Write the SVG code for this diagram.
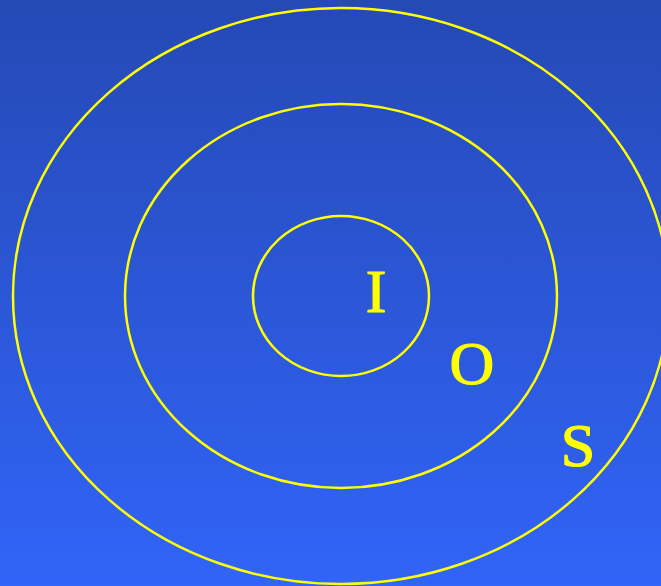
<svg xmlns="http://www.w3.org/2000/svg" width="661" height="586" viewBox="0 0 661 586">
<defs>
<linearGradient id="bg" x1="0" y1="0" x2="0" y2="1">
<stop offset="0" stop-color="#2549b5"/>
<stop offset="1" stop-color="#3164f8"/>
</linearGradient>
</defs>
<style>
.ring{fill:none;stroke:#ffff00;stroke-width:2.5}
.lbl{font-family:"Liberation Serif","Times New Roman",serif;font-size:62px;fill:#ffff00;stroke:#ffff00;stroke-width:1.2;text-anchor:middle}
</style>
<rect width="661" height="586" fill="url(#bg)"/>
<g id="S"><ellipse class="ring" cx="341" cy="296" rx="328" ry="288"/><text class="lbl" x="578" y="466">S</text></g>
<g id="O"><ellipse class="ring" cx="341" cy="296" rx="216" ry="192"/><text class="lbl" x="472" y="384">O</text></g>
<g id="I"><ellipse class="ring" cx="341" cy="296" rx="88" ry="80"/><text class="lbl" x="376" y="312">I</text></g>
<g id="connectors"/>
</svg>
